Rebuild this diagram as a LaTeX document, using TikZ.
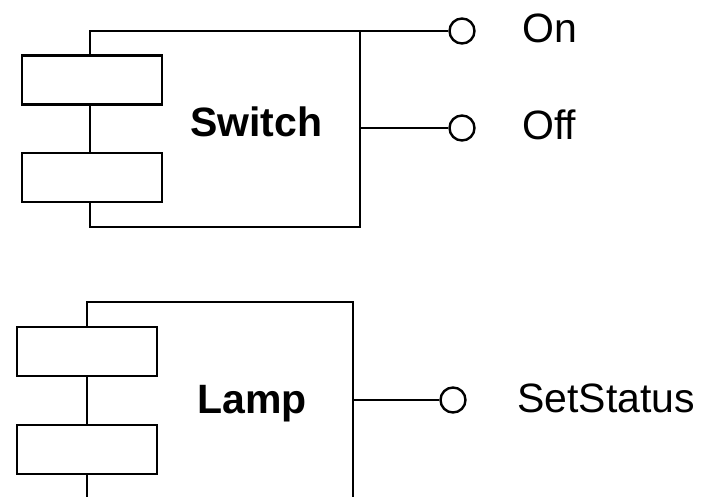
\documentclass[tikz,border=0pt]{standalone}
\usepackage{fontspec}
\setmainfont{Liberation Sans}
\usetikzlibrary{positioning}

\begin{document}
\begin{tikzpicture}[x=1pt,y=-1pt,
  cmpbody/.style={draw,line width=2.8pt,inner sep=0pt,outer sep=0pt},
  cmptab/.style={draw,fill=white,line width=2.8pt,minimum width=140pt,minimum height=49pt,inner sep=0pt},
  cmpport/.style={draw,circle,fill=white,line width=2.4pt,minimum size=25pt,inner sep=0pt},
  cmpname/.style={anchor=base west,inner sep=0pt,font=\fontsize{41}{41}\selectfont\bfseries},
  portname/.style={anchor=base west,inner sep=0pt,font=\fontsize{41}{41}\selectfont}
]
  \useasboundingbox (0,0) rectangle (722,497);
  \clip (0,0) rectangle (722,497);

  % Switch
  \node[cmpbody,minimum width=270pt,minimum height=196pt] (swbody) at (225,129) {};
  \node[cmptab] (swtaba) at (92,80) {};
  \node[cmptab] (swtabb) at (92,177.5) {};
  \node[cmpname] (swname) at (190,137) {Switch};

  \node[cmpport] (swon) at (462,31) {};
  \node[cmpport] (swoff) at (462,128) {};
  \node[portname] (swonlbl) at (522,43) {On};
  \node[portname] (swofflbl) at (522,140) {Off};

  \draw[line width=2.8pt] (swbody.north east) -- (swon.west);
  \draw[line width=2.8pt] (swbody.east |- swoff) -- (swoff.west);

  % Lamp
  \node[cmpbody,minimum width=266pt,minimum height=228pt] (lpbody) at (220,416) {};
  \node[cmptab] (lptaba) at (87,351.5) {};
  \node[cmptab] (lptabb) at (87,449.5) {};
  \node[cmpname] (lpname) at (197,413) {Lamp};

  \node[cmpport] (lpset) at (453,400) {};
  \node[portname] (lpsetlbl) at (517,412) {SetStatus};

  \draw[line width=2.8pt] (lpbody.east |- lpset) -- (lpset.west);
\end{tikzpicture}
\end{document}
